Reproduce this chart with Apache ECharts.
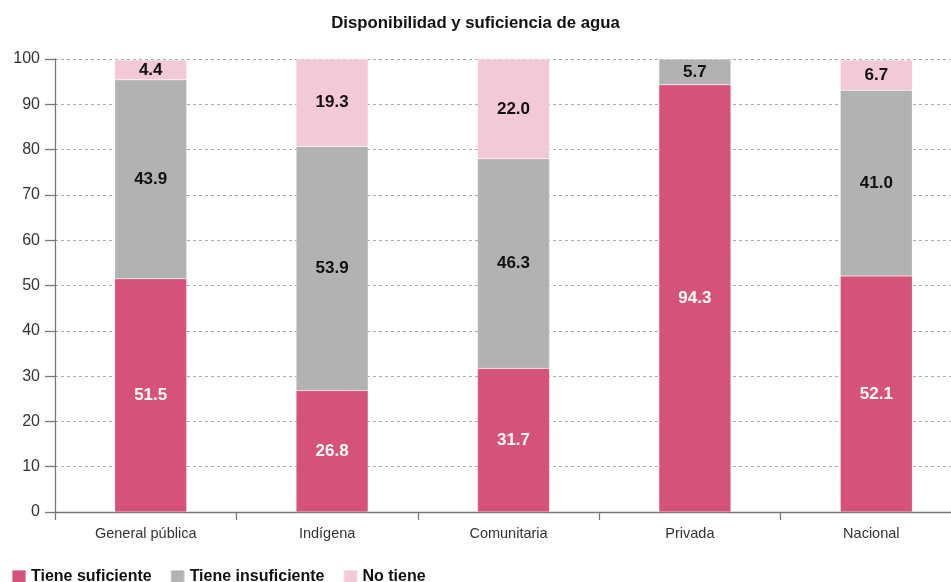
<!DOCTYPE html>
<html><head><meta charset="utf-8">
<script src="https://cdn.jsdelivr.net/npm/echarts@6/dist/echarts.min.js"></script>
<style>html,body{margin:0;padding:0;background:#fff}#c{width:951px;height:582px}</style>
</head><body><div id="c"></div>
<script>
const categories = ['General pública', 'Indígena', 'Comunitaria', 'Privada', 'Nacional'];
const suficiente = [51.5, 26.8, 31.7, 94.3, 52.1];
const insuficiente = [43.9, 53.9, 46.3, 5.7, 41.0];
const noTiene = [4.4, 19.3, 22.0, 0, 6.7];
const seriesNames = ['Tiene suficiente', 'Tiene insuficiente', 'No tiene'];
const colors = ['#D55279', '#B2B2B2', '#F3C9D5'];

const font = 'Liberation Sans, Arial, sans-serif';
const chart = echarts.init(document.getElementById('c'), null, {renderer: 'canvas'});
function lbl(color) {
  return {
    show: true, position: 'inside', color: color, fontWeight: 'bold', fontSize: 17, fontFamily: font,
    formatter: p => p.value > 0 ? p.value.toFixed(1) : ''
  };
}
const datas = [suficiente, insuficiente, noTiene];
const labelColors = ['#fff', '#111', '#111'];
const series = [{
  name: 'pad', type: 'bar', stack: 'pad', barWidth: 10, barGap: 0,
  data: categories.map(() => null), silent: true, itemStyle: {color: 'rgba(0,0,0,0)'}
}].concat(datas.map((d, i) => ({
  name: seriesNames[i], type: 'bar', stack: 'total', barWidth: 72, barGap: 0,
  data: d, label: lbl(labelColors[i]),
  itemStyle: {color: colors[i], borderColor: 'rgba(255,255,255,0.4)', borderWidth: 0.5}
})));
chart.setOption({
  animation: false,
  color: colors,
  title: {
    text: 'Disponibilidad y suficiencia de agua', left: 'center', top: 10,
    textStyle: {fontFamily: font, fontSize: 16.75, fontWeight: 'bold', color: '#111'}
  },
  legend: {
    left: 6, top: 564, itemWidth: 14, itemHeight: 14, itemGap: 18,
    icon: 'rect',
    textStyle: {fontFamily: font, fontSize: 16, fontWeight: 'bold', color: '#111'},
    data: seriesNames
  },
  grid: {left: 55, right: -11, top: 59, bottom: 70, containLabel: false, outerBoundsMode: 'none'},
  xAxis: {
    type: 'category', data: categories, boundaryGap: true,
    axisLine: {lineStyle: {color: '#777', width: 1.3}},
    axisTick: {show: true, length: 8, lineStyle: {color: '#777', width: 1.3}},
    axisLabel: {fontFamily: font, fontSize: 14.5, color: '#333', margin: 14}
  },
  yAxis: {
    type: 'value', min: 0, max: 100, interval: 10,
    axisLine: {show: true, lineStyle: {color: '#777', width: 1.3}},
    axisTick: {show: true, length: 10, lineStyle: {color: '#777', width: 1.3}},
    axisLabel: {fontFamily: font, fontSize: 16, color: '#333', margin: 15},
    splitLine: {lineStyle: {color: '#aaa', type: [3, 3], width: 1}}
  },
  series: series
});
</script></body></html>
